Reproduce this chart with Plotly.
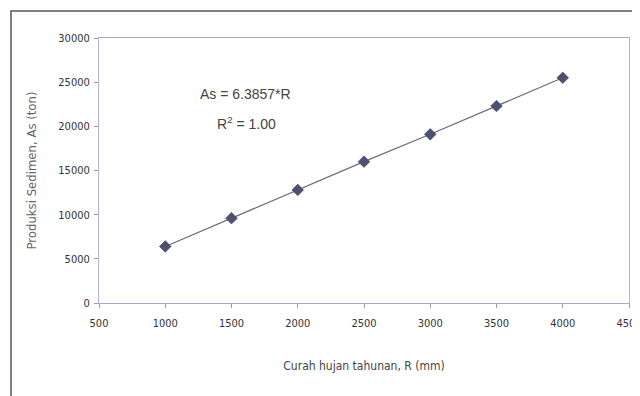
import plotly.graph_objects as go

rainfall = [1000, 1500, 2000, 2500, 3000, 3500, 4000]
sediment = [6400, 9600, 12800, 16000, 19100, 22300, 25500]
x_ticks = [500, 1000, 1500, 2000, 2500, 3000, 3500, 4000, 4500]
y_ticks = [0, 5000, 10000, 15000, 20000, 25000, 30000]

FONT = "DejaVu Sans Condensed, Liberation Sans Narrow, Arial Narrow, sans-serif"
ANN_FONT = "Liberation Sans, Arial, sans-serif"

# page body has an 8px default margin; margins below compensate for it
L, T, R, B = 91, 30, 19, 101
PW, PH = 640 - L - R, 396 - T - B

fig = go.Figure()
fig.add_trace(go.Scatter(
    x=rainfall, y=sediment, mode="lines+markers",
    line=dict(color="#6b6b7e", width=1.2),
    marker=dict(symbol="diamond", size=9, color="#4c5170",
                line=dict(color="#3a3d55", width=0.5)),
    showlegend=False,
))

fig.update_layout(
    width=640, height=396,
    margin=dict(l=L, r=R, t=T, b=B),
    paper_bgcolor="white", plot_bgcolor="white",
    font=dict(family=FONT, color="#444"),
    xaxis=dict(range=[500, 4500], tickvals=x_ticks, ticktext=[str(v) for v in x_ticks],
               ticks="outside", ticklen=4, automargin=False, ticklabeloverflow="allow",
               ticklabelstandoff=6,
               tickcolor="#9a9ab8", showgrid=False, zeroline=False,
               showline=True, linecolor="#a8a8cc", mirror=True,
               tickfont=dict(size=11, color="#333"),
               title=dict(text="Curah hujan tahunan, R (mm)", font=dict(size=12, color="#444"), standoff=32)),
    yaxis=dict(range=[0, 30000], tickvals=y_ticks, ticktext=[str(v) for v in y_ticks],
               ticks="outside", ticklen=4, automargin=False,
               ticklabelstandoff=2,
               tickcolor="#9a9ab8", showgrid=False, zeroline=False,
               showline=True, linecolor="#b8b0d8", mirror=True,
               tickfont=dict(size=11, color="#333"),
               title=dict(text="Produksi Sedimen, As (ton)", font=dict(size=13, color="#666"), standoff=18)),
    annotations=[
        dict(x=1602, y=23660, xref="x", yref="y", text="As = 6.3857*R", showarrow=False,
             font=dict(size=14, color="#444", family=ANN_FONT)),
        dict(x=1610, y=20400, xref="x", yref="y", text="R<sup>2</sup> = 1.00", showarrow=False,
             font=dict(size=14, color="#444", family=ANN_FONT)),
    ],
    shapes=[
        dict(type="rect", xref="paper", yref="paper",
             x0=(3 - L) / PW, x1=(660 - L) / PW,
             y0=(PH + T - 420) / PH, y1=(PH + T - 3) / PH,
             line=dict(color="#555", width=1.5), fillcolor="rgba(0,0,0,0)", layer="below"),
    ],
)

fig.write_html("out.html")
